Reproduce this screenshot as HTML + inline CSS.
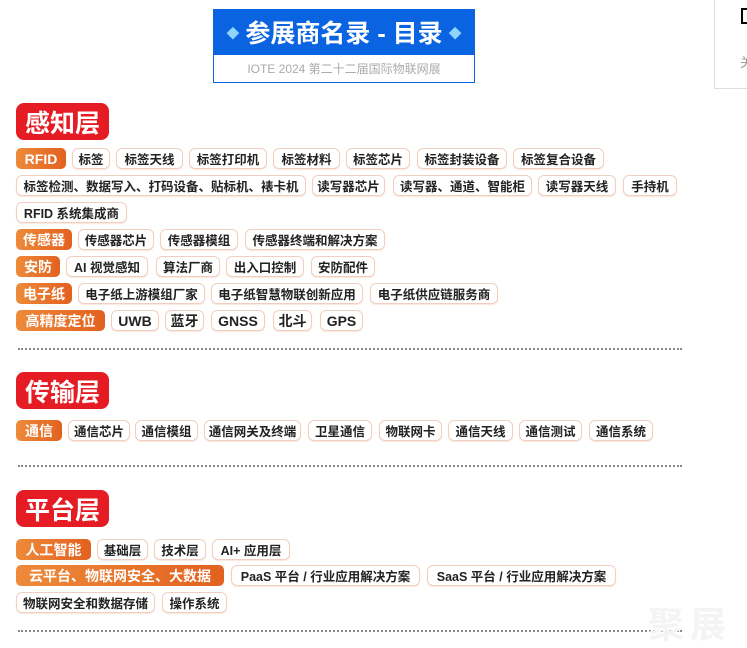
<!DOCTYPE html>
<html><head><meta charset="utf-8"><style>
body{margin:0;width:747px;height:639px;background:#fff;position:relative;overflow:hidden;font-family:"Liberation Sans","Noto Sans CJK SC",sans-serif;}
.a{position:absolute;box-sizing:border-box;display:flex;align-items:center;justify-content:center;white-space:nowrap;}
.t{height:21px;border:1px solid #f0cfc0;border-radius:6px;font-size:12.5px;font-weight:bold;color:#222;box-shadow:0 1px 1px rgba(230,150,120,.25);}
.c{height:21px;border-radius:5px;font-size:14px;font-weight:bold;color:#fff;background:linear-gradient(90deg,#ee8a3a,#e2611f);}
.b{height:37px;width:93px;border-radius:8px;background:#e61c25;color:#fff;font-size:25px;font-weight:bold;left:16px;}
.d{position:absolute;left:18px;width:664px;height:0;border-top:2px dotted #888;}
</style></head><body>
<div class="a" style="left:213px;top:9px;width:262px;height:46px;background:#0a63e0;color:#fff;font-size:25px;font-weight:bold;"><span style="color:#8fd3ff;font-size:13px;margin-right:6px">◆</span>参展商名录 - 目录<span style="color:#8fd3ff;font-size:13px;margin-left:6px">◆</span></div>
<div class="a" style="left:213px;top:54px;width:262px;height:29px;border:1px solid #0a63e0;border-top:none;color:#aaa;font-size:12px;">IOTE 2024 第二十二届国际物联网展</div>
<div style="position:absolute;left:714px;top:-1px;width:40px;height:88px;border:1px solid #ddd;"></div>
<div style="position:absolute;left:741px;top:8px;width:8px;height:12px;border:2px solid #000;"></div>
<div style="position:absolute;left:740px;top:52px;color:#999;font-size:13px;">关</div>

<div class="a b" style="top:103px">感知层</div>
<div class="a c" style="left:16px;top:148px;width:50px">RFID</div>
<div class="a t" style="left:72px;top:148px;width:38px">标签</div>
<div class="a t" style="left:116px;top:148px;width:67px">标签天线</div>
<div class="a t" style="left:189px;top:148px;width:78px">标签打印机</div>
<div class="a t" style="left:273px;top:148px;width:67px">标签材料</div>
<div class="a t" style="left:346px;top:148px;width:64px">标签芯片</div>
<div class="a t" style="left:417px;top:148px;width:90px">标签封装设备</div>
<div class="a t" style="left:513px;top:148px;width:91px">标签复合设备</div>
<div class="a t" style="left:16px;top:175px;width:290px">标签检测、数据写入、打码设备、贴标机、裱卡机</div>
<div class="a t" style="left:312px;top:175px;width:73px">读写器芯片</div>
<div class="a t" style="left:393px;top:175px;width:139px">读写器、通道、智能柜</div>
<div class="a t" style="left:538px;top:175px;width:78px">读写器天线</div>
<div class="a t" style="left:623px;top:175px;width:54px">手持机</div>
<div class="a t" style="left:16px;top:202px;width:111px">RFID 系统集成商</div>
<div class="a c" style="left:16px;top:229px;width:56px">传感器</div>
<div class="a t" style="left:78px;top:229px;width:76px">传感器芯片</div>
<div class="a t" style="left:160px;top:229px;width:78px">传感器模组</div>
<div class="a t" style="left:245px;top:229px;width:140px">传感器终端和解决方案</div>
<div class="a c" style="left:16px;top:256px;width:44px">安防</div>
<div class="a t" style="left:66px;top:256px;width:82px">AI 视觉感知</div>
<div class="a t" style="left:156px;top:256px;width:64px">算法厂商</div>
<div class="a t" style="left:226px;top:256px;width:78px">出入口控制</div>
<div class="a t" style="left:311px;top:256px;width:64px">安防配件</div>
<div class="a c" style="left:16px;top:283px;width:56px">电子纸</div>
<div class="a t" style="left:78px;top:283px;width:127px">电子纸上游模组厂家</div>
<div class="a t" style="left:211px;top:283px;width:152px">电子纸智慧物联创新应用</div>
<div class="a t" style="left:370px;top:283px;width:128px">电子纸供应链服务商</div>
<div class="a c" style="left:16px;top:310px;width:89px">高精度定位</div>
<div class="a t" style="left:111px;top:310px;width:48px;font-size:14px">UWB</div>
<div class="a t" style="left:165px;top:310px;width:39px;font-size:14px">蓝牙</div>
<div class="a t" style="left:211px;top:310px;width:54px;font-size:14px">GNSS</div>
<div class="a t" style="left:273px;top:310px;width:39px;font-size:14px">北斗</div>
<div class="a t" style="left:320px;top:310px;width:43px;font-size:14px">GPS</div>
<div class="d" style="top:348px"></div>

<div class="a b" style="top:372px">传输层</div>
<div class="a c" style="left:16px;top:420px;width:46px">通信</div>
<div class="a t" style="left:68px;top:420px;width:62px">通信芯片</div>
<div class="a t" style="left:135px;top:420px;width:63px">通信模组</div>
<div class="a t" style="left:204px;top:420px;width:97px">通信网关及终端</div>
<div class="a t" style="left:308px;top:420px;width:64px">卫星通信</div>
<div class="a t" style="left:379px;top:420px;width:63px">物联网卡</div>
<div class="a t" style="left:448px;top:420px;width:65px">通信天线</div>
<div class="a t" style="left:519px;top:420px;width:63px">通信测试</div>
<div class="a t" style="left:589px;top:420px;width:64px">通信系统</div>
<div class="d" style="top:465px"></div>

<div class="a b" style="top:490px">平台层</div>
<div class="a c" style="left:16px;top:539px;width:75px">人工智能</div>
<div class="a t" style="left:97px;top:539px;width:51px">基础层</div>
<div class="a t" style="left:154px;top:539px;width:52px">技术层</div>
<div class="a t" style="left:212px;top:539px;width:78px">AI+ 应用层</div>
<div class="a c" style="left:16px;top:565px;width:208px">云平台、物联网安全、大数据</div>
<div class="a t" style="left:231px;top:565px;width:189px;font-size:12.5px">PaaS 平台 / 行业应用解决方案</div>
<div class="a t" style="left:427px;top:565px;width:189px;font-size:12.5px">SaaS 平台 / 行业应用解决方案</div>
<div class="a t" style="left:16px;top:592px;width:139px">物联网安全和数据存储</div>
<div class="a t" style="left:162px;top:592px;width:65px">操作系统</div>
<div class="d" style="top:630px"></div>
<div style="position:absolute;left:648px;top:596px;font-size:36px;font-weight:bold;color:#f4f4f4;letter-spacing:6px;">聚展</div>
</body></html>
